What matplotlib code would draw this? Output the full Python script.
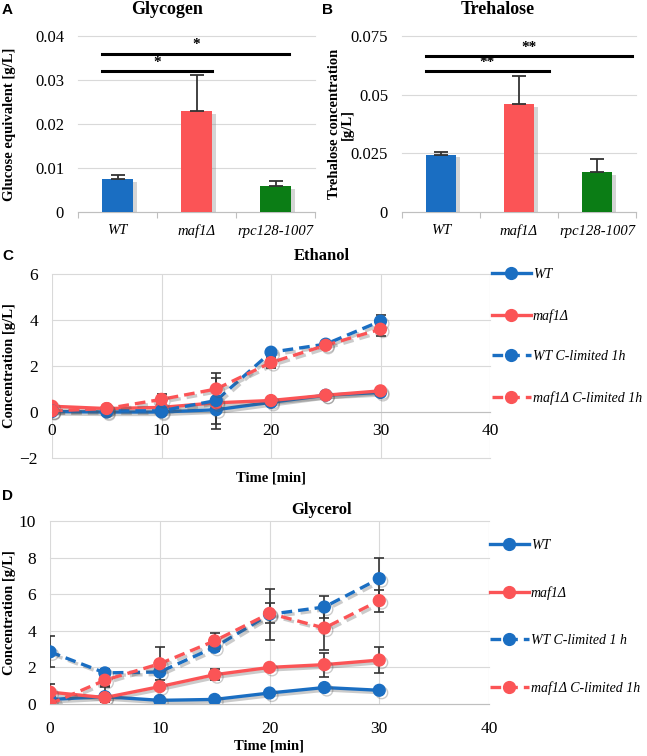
import matplotlib.pyplot as plt
import matplotlib.patheffects as pe

plt.rcParams['font.family'] = ['Liberation Serif', 'DejaVu Serif']

# ---- data ----
strains = ['WT', 'maf1Δ', 'rpc128-1007']
bar_colors = ['#1a6ec2', '#fb5456', '#0b7d15']

glycogen = [0.0075, 0.023, 0.0058]
glycogen_err = [0.001, 0.0082, 0.0012]
glycogen_sig = [(-0.19, 1.2, 0.032, '*'), (-0.19, 2.17, 0.036, '*')]

trehalose = [0.0245, 0.046, 0.017]
trehalose_err = [0.001, 0.012, 0.0055]
trehalose_sig = [(-0.19, 1.38, 0.060, '**'), (-0.19, 2.45, 0.0665, '**')]

time = [0, 5, 10, 15, 20, 25, 30]

eth_wt = [0.02, 0.0, 0.0, 0.1, 0.42, 0.73, 0.85]
eth_maf1 = [0.25, 0.15, 0.2, 0.4, 0.5, 0.73, 0.92]
eth_wt_c = [0.05, 0.05, 0.05, 0.5, 2.6, 2.95, 3.95]
eth_maf1_c = [0.05, 0.15, 0.55, 1.0, 2.15, 2.9, 3.6]
eth_wt_err = [0.1, 0.0, 0.0, 0.85, 0.05, 0.05, 0.05]
eth_maf1_err = [0.15, 0.05, 0.05, 0.1, 0.05, 0.05, 0.05]
eth_wt_c_err = [0.1, 0.05, 0.05, 1.0, 0.15, 0.1, 0.25]
eth_maf1_c_err = [0.05, 0.05, 0.25, 0.7, 0.25, 0.1, 0.3]

gly_wt = [0.25, 0.4, 0.2, 0.25, 0.6, 0.9, 0.75]
gly_maf1 = [0.65, 0.35, 0.95, 1.6, 2.0, 2.15, 2.4]
gly_wt_c = [2.85, 1.7, 1.75, 3.1, 4.9, 5.3, 6.85]
gly_maf1_c = [0.0, 1.3, 2.2, 3.45, 4.95, 4.15, 5.65]
gly_wt_err = [0.1, 0.55, 0.05, 0.05, 0.1, 0.1, 0.1]
gly_maf1_err = [0.45, 0.25, 0.2, 0.3, 0.1, 0.65, 0.7]
gly_wt_c_err = [0.85, 0.2, 0.6, 0.2, 1.4, 0.6, 1.15]
gly_maf1_c_err = [0.05, 0.3, 0.9, 0.45, 0.55, 1.2, 0.6]

labels_c = ['WT', 'maf1Δ', 'WT C-limited 1h', 'maf1Δ C-limited 1h']
labels_d = ['WT', 'maf1Δ', 'WT C-limited 1 h', 'maf1Δ C-limited 1h']

BLUE = '#1a6ec2'
RED = '#fb5456'
GRID = '#d9d9d9'

W, H = 647, 756
fig = plt.figure(figsize=(W / 100, H / 100), dpi=100)


def box(l, t, r, b):
    return [l / W, 1 - b / H, (r - l) / W, (b - t) / H]


def label_x(px, l, r):
    return (px - l) / (r - l)


def bar_panel(pos, values, errs, sigs, ymax, yticks, fmt, ylabel, lab_px, title, title_px, letter, letter_px):
    ax = fig.add_axes(box(*pos))
    x = range(len(values))
    bars = ax.bar(x, values, width=0.38, color=bar_colors, zorder=3)
    for b in bars:
        b.set_path_effects([pe.SimplePatchShadow(offset=(3, -2), shadow_rgbFace='#888888', alpha=0.35),
                            pe.Normal()])
    ax.errorbar(x, values, yerr=[[0] * len(errs), errs], fmt='none', ecolor='#333333',
                elinewidth=1.3, capsize=5, capthick=1.3, zorder=4)
    for x0, x1, y, star in sigs:
        ax.plot([x0, x1], [y, y], color='black', lw=2.2, zorder=5, clip_on=False)
        ax.text((x0 + x1) / 2, y + ymax * 0.012, star, ha='center', va='bottom', fontsize=11, fontweight='bold')
    ax.set_xlim(-0.5, len(values) - 0.5)
    ax.set_ylim(0, ymax)
    ax.set_yticks(yticks)
    ax.set_yticklabels([fmt(v) for v in yticks])
    ax.set_xticks(list(x))
    ax.set_xticklabels(strains, fontstyle='italic', fontsize=10.5)
    ax.set_xticks([i - 0.5 for i in range(len(values) + 1)], minor=True)
    ax.tick_params(axis='x', which='major', length=0, pad=9)
    ax.tick_params(axis='x', which='minor', length=4, color='#bfbfbf', width=0.8)
    ax.tick_params(axis='y', length=0, labelsize=12, pad=10)
    ax.grid(axis='y', color=GRID, lw=0.8, zorder=0)
    for s in ['left', 'right', 'top']:
        ax.spines[s].set_visible(False)
    ax.spines['bottom'].set_color('#bfbfbf')
    for line in ax.get_ygridlines():
        line.set_clip_on(False)
    ax.set_ylabel(ylabel, fontweight='bold', fontsize=10.5, linespacing=1.0)
    ax.yaxis.set_label_coords(label_x(lab_px, pos[0], pos[2]), 0.5)
    fig.text(title_px / W, 1 - 10 / H, title, ha='center', va='center', fontsize=13, fontweight='bold')
    fig.text(letter_px / W, 1 - 10 / H, letter, ha='left', va='center', fontsize=11,
             fontweight='bold', family='Liberation Sans')
    return ax


bar_panel((78, 36, 315, 212), glycogen, glycogen_err, glycogen_sig, 0.04,
          [0, 0.01, 0.02, 0.03, 0.04], lambda v: '0' if v == 0 else f'{v:.2f}',
          'Glucose equivalent [g/L]', 16, 'Glycogen', 167, 'A', 2)
bar_panel((402, 36, 636, 212), trehalose, trehalose_err, trehalose_sig, 0.075,
          [0, 0.025, 0.05, 0.075], lambda v: '0' if v == 0 else f'{v:g}',
          'Trehalose concentration\n[g/L]', 354, 'Trehalose', 498, 'B', 322)


def line_panel(pos, series, errs, labels, ylim, yticks, title, title_y, letter, letter_y,
               leg_anchor, leg_spacing, xpad):
    ax = fig.add_axes(box(*pos))
    styles = [(BLUE, '-'), (RED, '-'), (BLUE, '--'), (RED, '--')]
    shadow = [pe.SimpleLineShadow(offset=(1.8, -1.8), shadow_color='#555555', alpha=0.3), pe.Normal()]
    handles = []
    for ys, es, (c, ls), lab in zip(series, errs, styles, labels):
        ax.errorbar(time, ys, yerr=es, fmt='none', ecolor='#333333', elinewidth=1.2,
                    capsize=3.5, capthick=1.2, zorder=2)
        h, = ax.plot(time, ys, color=c, ls=ls, lw=2.4, marker='o', ms=8.5, label=lab, zorder=3,
                     path_effects=shadow)
        if ls == '--':
            h.set_dashes((3.2, 1.8))
        handles.append(h)
    ax.set_xlim(0, 40)
    ax.set_ylim(*ylim)
    ax.set_xticks([0, 10, 20, 30, 40])
    ax.set_yticks(yticks)
    ax.grid(True, color=GRID, lw=0.8, zorder=0)
    for line in ax.get_xgridlines() + ax.get_ygridlines():
        line.set_clip_on(False)
    for s in ['left', 'right', 'top']:
        ax.spines[s].set_visible(False)
    ax.spines['bottom'].set_position(('data', 0))
    ax.spines['bottom'].set_color('#bfbfbf')
    ax.tick_params(length=0, labelsize=12.5)
    ax.tick_params(axis='x', pad=xpad)
    ax.tick_params(axis='y', pad=10)
    ax.set_ylabel('Concentration [g/L]', fontweight='bold', fontsize=10.5)
    ax.yaxis.set_label_coords(label_x(16, pos[0], pos[2]), 0.5)
    fig.text(322 / W, 1 - title_y / H, title, ha='center', va='center', fontsize=12, fontweight='bold')
    fig.text(2 / W, 1 - letter_y / H, letter, ha='left', va='center', fontsize=11,
             fontweight='bold', family='Liberation Sans')
    leg = ax.legend(handles=handles, loc='upper left',
                    bbox_to_anchor=(leg_anchor[0] / W, 1 - leg_anchor[1] / H),
                    bbox_transform=fig.transFigure, frameon=False, borderpad=0, borderaxespad=0,
                    handlelength=2.8, handletextpad=0.15, labelspacing=leg_spacing,
                    prop={'style': 'italic', 'size': 10})
    for h in leg.legend_handles:
        h.set_path_effects([])
    return ax


axc = line_panel((52, 274, 490, 458), [eth_wt, eth_maf1, eth_wt_c, eth_maf1_c],
                 [eth_wt_err, eth_maf1_err, eth_wt_c_err, eth_maf1_c_err], labels_c,
                 (-2, 6), [-2, 0, 2, 4, 6], 'Ethanol', 256, 'C', 256, (492, 268), 2.0, 8)
axc.set_xlabel('Time [min]', fontweight='bold', fontsize=10.5)
axc.xaxis.set_label_coords(0.5, -0.03 - 8 / 184)

axd = line_panel((50, 521, 489, 704), [gly_wt, gly_maf1, gly_wt_c, gly_maf1_c],
                 [gly_wt_err, gly_maf1_err, gly_wt_c_err, gly_maf1_c_err], labels_d,
                 (0, 10), [0, 2, 4, 6, 8, 10], 'Glycerol', 510, 'D', 496, (490, 539), 2.45, 12)
axd.set_xlabel('Time [min]', fontweight='bold', fontsize=10.5, labelpad=2)

fig.savefig('out.png', dpi=100)
